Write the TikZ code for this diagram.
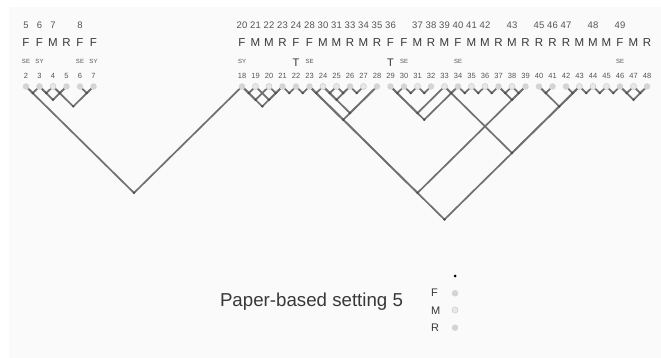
\documentclass[tikz,border=0pt]{standalone}
\usepackage{fontspec}
\setmainfont{Liberation Sans}
\definecolor{linegray}{HTML}{707070}
\definecolor{nodegray}{HTML}{4A4A4A}
\definecolor{dotF}{HTML}{D4D4D4}
\definecolor{dotM}{HTML}{E8E8E8}
\definecolor{dotring}{HTML}{CFCFCF}
\definecolor{txtgray}{HTML}{555555}
\definecolor{ltrgray}{HTML}{383838}
\definecolor{panel}{HTML}{FAFAFA}
\pgfdeclarelayer{bg}
\pgfsetlayers{bg,main}
\begin{document}
\begin{tikzpicture}[x=1pt,y=-1pt,
  ln/.style={draw=linegray,line width=1.7pt,line cap=round,line join=round},
  lk/.style={circle,fill=nodegray,inner sep=0pt,minimum size=2.6pt},
  mvF/.style={circle,fill=dotF,inner sep=0pt,minimum size=6.5pt},
  mvR/.style={mvF},
  mvM/.style={circle,fill=dotM,draw=dotring,line width=0.6pt,inner sep=0pt,minimum size=6pt},
  topnum/.style={font=\fontsize{9.5}{10}\selectfont,text=txtgray,inner sep=0pt},
  ltr/.style={font=\fontsize{11.5}{12}\selectfont,text=ltrgray,inner sep=0pt},
  pnum/.style={font=\fontsize{7.5}{8}\selectfont,text=txtgray,inner sep=0pt},
  tag/.style={font=\fontsize{6}{7}\selectfont,text=txtgray,inner sep=0pt},
  ttag/.style={font=\fontsize{11}{12}\selectfont,text=ltrgray,inner sep=0pt},
  legltr/.style={font=\fontsize{11}{12}\selectfont,text=ltrgray,inner sep=0pt,anchor=base west},
]
\useasboundingbox (0,0) rectangle (661,358);
\begin{pgfonlayer}{bg}
  \fill[white] (0,0) rectangle (661,358);
  \fill[panel] (9,7) rectangle (661,358);
\end{pgfonlayer}

% moves: dot, type letter and move number
\foreach \k/\t in {2/F,3/F,4/M,5/R,6/F,7/F,
                   18/F,19/M,20/M,21/R,22/F,23/F,24/M,25/M,26/R,27/M,28/R,
                   29/F,30/F,31/M,32/R,33/M,34/F,35/M,36/M,37/R,38/M,39/R,
                   40/R,41/R,42/R,43/M,44/M,45/M,46/F,47/M,48/R} {
  \pgfmathsetmacro\px{26+13.5*(\k-2)}
  \node[mv\t] (m\k) at (\px,86.5) {};
  \node[ltr] (c\k) at (\px,42.5) {\t};
  \node[pnum] (p\k) at (\px,76) {\k};
}

% segment numbers above the letters
\foreach \k/\n in {2/5,3/6,4/7,6/8,
                   18/20,19/21,20/22,21/23,22/24,23/28,24/30,25/31,26/33,27/34,28/35,
                   29/36,31/37,32/38,33/39,34/40,35/41,36/42,38/43,
                   40/45,41/46,42/47,44/48,46/49} {
  \node[topnum] (t\k) at ({26+13.5*(\k-2)},25.5) {\n};
}

% SE / SY tags and T marks
\foreach \k/\s in {2/SE,3/SY,6/SE,7/SY,18/SY,23/SE,30/SE,34/SE,46/SE} {
  \node[tag] (g\k) at ({26+13.5*(\k-2)},61) {\s};
}
\foreach \k in {22,29} {
  \node[ttag] (h\k) at ({26+13.5*(\k-2)},62.5) {T};
}

% links: a node at the meeting point of the 45-degree lines from both moves
\foreach \i/\j in {2/3,3/4,4/5,3/5,4/7,6/7,2/18,
                   18/19,18/20,19/21,18/21,20/21,21/22,22/23,23/24,
                   24/25,25/26,24/26,26/27,23/28,24/28,23/39,23/43,
                   29/30,30/31,31/32,29/33,29/34,33/34,34/35,35/36,36/37,
                   37/38,38/39,37/39,33/43,
                   40/41,40/43,42/43,43/44,44/45,45/46,46/47,47/48,46/48} {
  \pgfmathsetmacro\ax{26+13.5*((\i+\j)/2-2)}
  \pgfmathsetmacro\ay{86.5+6.65*(\j-\i)}
  \node[lk] (l\i-\j) at (\ax,\ay) {};
  \begin{pgfonlayer}{bg}
    \draw[ln] (m\i.center) -- (l\i-\j.center) -- (m\j.center);
  \end{pgfonlayer}
}

% title and legend
\node[font=\fontsize{18.7}{20}\selectfont,text=ltrgray,inner sep=0pt,anchor=base]
  (title) at (311.5,306.7) {Paper-based setting 5};
\node[circle,fill=black,inner sep=0pt,minimum size=3pt] (kl) at (455,276) {};
\node[legltr] (kF) at (431,296.7) {F};
\node[legltr] (kM) at (431,314) {M};
\node[legltr] (kR) at (431,331.7) {R};
\node[mvF] (dF) at (455,293.3) {};
\node[mvM] (dM) at (455,310) {};
\node[mvR] (dR) at (455,327.7) {};
\end{tikzpicture}
\end{document}
